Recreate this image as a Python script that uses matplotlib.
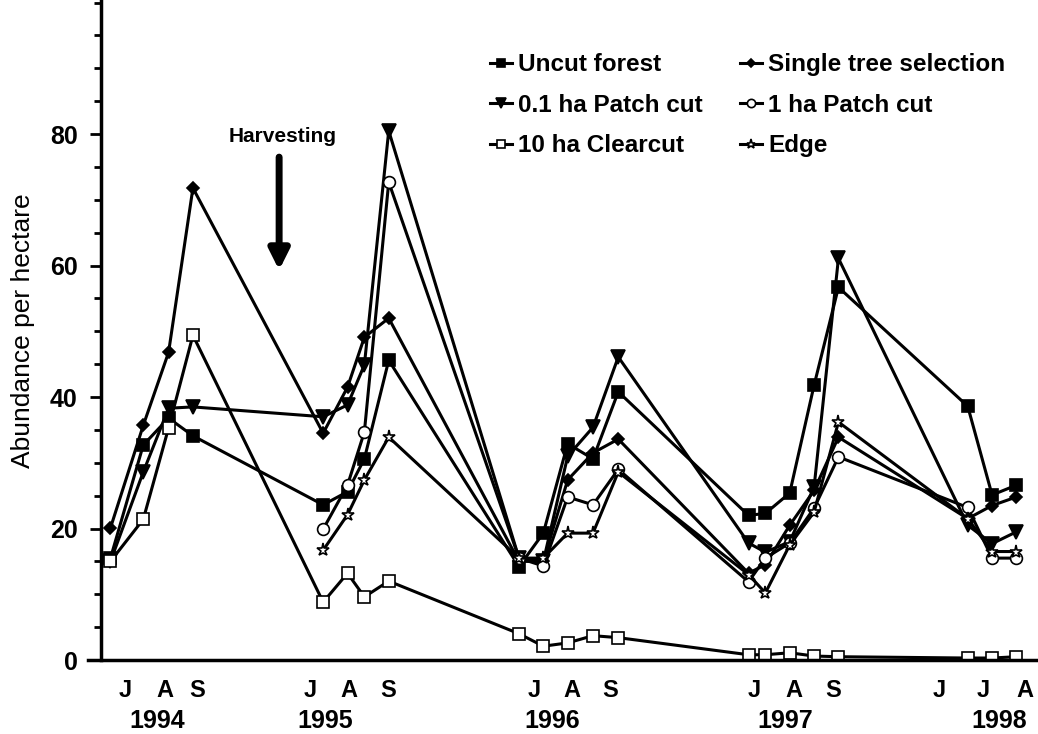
import numpy as np
import matplotlib
matplotlib.use("Agg")
import matplotlib.pyplot as plt
from matplotlib.ticker import MultipleLocator

plt.rcParams['font.family'] = ['Liberation Sans', 'DejaVu Sans']

# sampling positions on the compressed time axis (weeks of field seasons)
sample_x = [1.0, 4.5, 7.2, 9.8,
            23.7, 26.3, 28.1, 30.7,
            44.6, 47.2, 49.8, 52.5, 55.2,
            69.1, 70.9, 73.5, 76.1, 78.7,
            92.5, 95.1, 97.7]

month_x = [2.6, 6.8, 10.2, 22.3, 26.4, 30.6, 46.2, 50.2, 54.3,
           69.7, 73.9, 78.1, 89.5, 94.2, 98.6]
month_labels = ["J", "A", "S", "J", "A", "S", "J", "A", "S",
                "J", "A", "S", "J", "J", "A"]
year_x = [6.0, 23.9, 48.1, 73.0, 95.9]
year_labels = ["1994", "1995", "1996", "1997", "1998"]

nan = np.nan
uncut = [15.5, 32.7, 36.8, 34.1,
         23.6, 25.6, 30.6, 45.6,
         14.2, 19.3, 32.9, 30.6, 40.8,
         22.0, 22.3, 25.4, 41.8, 56.7,
         38.6, 25.1, 26.6]
single_tree = [20.1, 35.7, 46.8, 71.8,
               34.5, 41.5, 49.1, 52.0,
               15.0, 15.0, 27.4, 31.5, 33.6,
               13.2, 14.5, 20.5, 25.8, 33.9,
               21.5, 23.5, 24.8]
patch_01 = [15.0, 28.6, 38.3, 38.5,
            37.0, 38.8, 44.9, 80.5,
            15.5, 15.0, 31.0, 35.4, 46.1,
            17.8, 16.4, 18.0, 26.3, 61.1,
            20.5, 17.7, 19.5]
patch_1 = [nan, nan, nan, nan,
           19.9, 26.6, 34.7, 72.7,
           15.5, 14.3, 24.8, 23.6, 29.0,
           11.9, 15.5, 17.8, 23.1, 30.9,
           23.2, 15.5, 15.5]
clearcut = [15.0, 21.4, 35.3, 49.4,
            8.8, 13.2, 9.6, 12.0,
            4.0, 2.1, 2.6, 3.7, 3.4,
            0.8, 0.8, 1.1, 0.6, 0.5,
            0.3, 0.3, 0.5]
edge = [nan, nan, nan, nan,
        16.7, 22.1, 27.4, 33.9,
        15.5, 15.5, 19.3, 19.3, 28.6,
        13.0, 10.2, 17.5, 22.5, 36.2,
        21.5, 16.5, 16.5]

fig = plt.figure(figsize=(10.38, 7.34), dpi=100)
ax = fig.add_axes([88 / 1038, 74 / 734, 950 / 1038, 660 / 734])

lw = 2.2
common = dict(color="black", lw=lw, markeredgecolor="black", markeredgewidth=1.2)
h_uncut, = ax.plot(sample_x, uncut, marker="s", ms=8.5, mfc="black", label="Uncut forest", **common)
h_single, = ax.plot(sample_x, single_tree, marker="D", ms=6.5, mfc="black", label="Single tree selection", **common)
h_p01, = ax.plot(sample_x, patch_01, marker="v", ms=9.5, mfc="black", label="0.1 ha Patch cut", **common)
h_p1, = ax.plot(sample_x, patch_1, marker="o", ms=8.5, mfc="white", label="1 ha Patch cut", **common)
h_clear, = ax.plot(sample_x, clearcut, marker="s", ms=8.5, mfc="white", label="10 ha Clearcut", **common)
h_edge, = ax.plot(sample_x, edge, marker="*", ms=9.5, mfc="white", label="Edge", **common)

ax.set_xlim(-1.4, 100)
ax.set_ylim(0, 100.4)

for s in ["top", "right"]:
    ax.spines[s].set_visible(False)
ax.spines["left"].set_position(("data", 0))
ax.spines["left"].set_linewidth(2.5)
ax.spines["bottom"].set_linewidth(2.5)

ax.set_yticks([0, 20, 40, 60, 80])
ax.set_yticklabels(["0", "20", "40", "60", "80"], fontsize=18, fontweight="bold")
ax.yaxis.set_minor_locator(MultipleLocator(5))
ax.tick_params(axis="y", which="major", direction="out", length=8, width=2, pad=9)
ax.tick_params(axis="y", which="minor", direction="out", length=5, width=2)

ax.set_xticks(month_x)
ax.set_xticklabels(month_labels, fontsize=17, fontweight="bold")
ax.tick_params(axis="x", length=0, pad=14)
for xx, yl in zip(year_x, year_labels):
    ax.text(xx, -0.093, yl, transform=ax.get_xaxis_transform(), ha="center", va="center",
            fontsize=18, fontweight="bold")

fig.text(23 / 1038, 0.549, "Abundance per hectare", rotation=90, ha="center", va="center", fontsize=19)

# harvesting arrow
ax.annotate("", xy=(19.0, 59.3), xytext=(19.0, 76.5),
            arrowprops=dict(arrowstyle="-|>", lw=5, mutation_scale=30, color="black",
                            shrinkA=0, shrinkB=0))
ax.text(19.4, 79.6, "Harvesting", ha="center", va="center", fontsize=15, fontweight="bold")

leg = ax.legend(handles=[h_uncut, h_p01, h_clear, h_single, h_p1, h_edge], ncol=2,
                loc="upper left", bbox_to_anchor=(478 / 1038, 1 - 41 / 734),
                bbox_transform=fig.transFigure, frameon=False, borderpad=0,
                handlelength=0.9, handletextpad=0.25, columnspacing=1.55,
                labelspacing=0.72, markerscale=0.7,
                prop={"size": 17.5, "weight": "bold"})

fig.savefig("out.png", dpi=100)
